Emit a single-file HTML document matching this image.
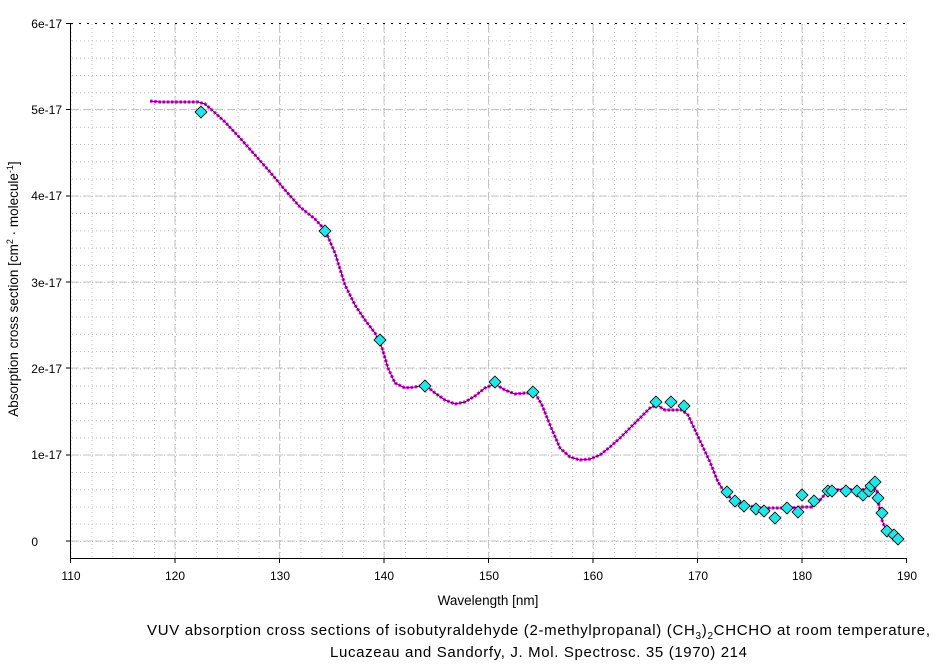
<!DOCTYPE html>
<html><head><meta charset="utf-8"><style>
body{margin:0;background:#fff;width:939px;height:665px;overflow:hidden}
text{font-family:"Liberation Sans",Arial,sans-serif;fill:#000}
</style></head><body>
<svg width="939" height="665" xmlns="http://www.w3.org/2000/svg">
<defs>
<pattern id="pv" patternUnits="userSpaceOnUse" x="70.5" y="0" width="20.9" height="4">
<line x1="0.5" y1="0" x2="0.5" y2="4" stroke="#bbb" stroke-dasharray="1,3"/>
</pattern>
<pattern id="ph" patternUnits="userSpaceOnUse" x="0" y="541" width="4" height="17.26">
<line x1="0" y1="0.5" x2="4" y2="0.5" stroke="#bbb" stroke-dasharray="1,3"/>
</pattern>
<marker id="dm" markerUnits="userSpaceOnUse" markerWidth="14" markerHeight="14" refX="7" refY="7" overflow="visible">
<polygon points="7,1 13,7 7,13 1,7" fill="#22e5e5" stroke="#000" stroke-width="0.8"/>
</marker>
</defs>
<rect x="71" y="24" width="836" height="534" fill="url(#pv)"/>
<rect x="71" y="24" width="836" height="534" fill="url(#ph)"/>
<g stroke="#c4c4c4" stroke-dasharray="8,4">
<line x1="175" y1="24" x2="175" y2="558"/><line x1="279.5" y1="24" x2="279.5" y2="558"/><line x1="384" y1="24" x2="384" y2="558"/><line x1="488.5" y1="24" x2="488.5" y2="558"/><line x1="593" y1="24" x2="593" y2="558"/><line x1="697.5" y1="24" x2="697.5" y2="558"/><line x1="802" y1="24" x2="802" y2="558"/>
<line x1="71" y1="109.5" x2="907" y2="109.5"/><line x1="71" y1="196" x2="907" y2="196"/><line x1="71" y1="282" x2="907" y2="282"/><line x1="71" y1="368" x2="907" y2="368"/><line x1="71" y1="455" x2="907" y2="455"/><line x1="71" y1="541" x2="907" y2="541"/>
</g>
<line x1="71" y1="23.5" x2="907" y2="23.5" stroke="#000" stroke-dasharray="2,6"/>
<line x1="70.5" y1="23" x2="70.5" y2="558" stroke="#000"/>
<line x1="70" y1="558.5" x2="907" y2="558.5" stroke="#000"/>
<g stroke="#000">
<line x1="66" y1="23.5" x2="70" y2="23.5"/><line x1="66" y1="109.5" x2="70" y2="109.5"/><line x1="66" y1="196" x2="70" y2="196"/><line x1="66" y1="282" x2="70" y2="282"/><line x1="66" y1="368" x2="70" y2="368"/><line x1="66" y1="455" x2="70" y2="455"/><line x1="66" y1="541" x2="70" y2="541"/>
<line x1="70.5" y1="558" x2="70.5" y2="563"/><line x1="175" y1="558" x2="175" y2="563"/><line x1="279.5" y1="558" x2="279.5" y2="563"/><line x1="384" y1="558" x2="384" y2="563"/><line x1="488.5" y1="558" x2="488.5" y2="563"/><line x1="593" y1="558" x2="593" y2="563"/><line x1="697.5" y1="558" x2="697.5" y2="563"/><line x1="802" y1="558" x2="802" y2="563"/><line x1="906.5" y1="558" x2="906.5" y2="563"/>
</g>
<g text-anchor="end" style="font-size:12px">
<text x="62" y="28">6e-17</text><text x="62" y="114">5e-17</text><text x="62" y="200">4e-17</text><text x="62" y="287">3e-17</text><text x="62" y="373">2e-17</text><text x="62" y="459">1e-17</text><text x="38" y="546">0</text>
</g>
<g text-anchor="middle" style="font-size:12px">
<text x="71" y="580">110</text><text x="175" y="580">120</text><text x="280" y="580">130</text><text x="384" y="580">140</text><text x="489" y="580">150</text><text x="593" y="580">160</text><text x="698" y="580">170</text><text x="802" y="580">180</text><text x="907" y="580">190</text>
</g>
<text x="488" y="605" text-anchor="middle" style="font-size:13.5px">Wavelength [nm]</text>
<text transform="translate(18,289) rotate(-90)" text-anchor="middle" style="font-size:13.5px">Absorption cross section [cm<tspan dy="-5" style="font-size:9px">2</tspan><tspan dy="5"> · molecule</tspan><tspan dy="-5" style="font-size:9px">-1</tspan><tspan dy="5">]</tspan></text>
<text x="147" y="635" style="font-size:15px" textLength="783" lengthAdjust="spacing">VUV absorption cross sections of isobutyraldehyde (2-methylpropanal) (CH<tspan dy="4" style="font-size:10px">3</tspan><tspan dy="-4">)</tspan><tspan dy="4" style="font-size:10px">2</tspan><tspan dy="-4">CHCHO at room temperature,</tspan></text>
<text x="330" y="657" style="font-size:15px" textLength="417" lengthAdjust="spacing">Lucazeau and Sandorfy, J. Mol. Spectrosc. 35 (1970) 214</text>
<polyline fill="none" stroke="#ff00ff" stroke-width="3.2" stroke-dasharray="2.6,1.6" points="150,101 160,102 175,102 198,102 205,104 212,110 225,122 240,138 255,155 270,172 285,190 300,207 315,219 325,230 335,253 345,285 355,305 365,320 375,333 382,348 388,368 395,383 405,388 415,387 425,385 435,393 445,400 455,404 465,402 475,396 485,388 495,384 505,390 515,394 525,393 535,393 542,405 550,425 560,448 570,457 580,460 590,459 600,455 610,447 620,438 630,428 640,418 650,408 657,405 665,410 675,410 682,410 688,415 695,430 702,445 710,462 718,482 725,493 733,500 745,505 760,508 775,508 790,508 800,507 812,507 820,500 827,492 835,490 845,489 855,490 862,490 868,488 873,487 877,491 879,506 882,520 885,528"/>
<polyline fill="none" stroke="#000" stroke-width="0.8" points="150,101 160,102 175,102 198,102 205,104 212,110 225,122 240,138 255,155 270,172 285,190 300,207 315,219 325,230 335,253 345,285 355,305 365,320 375,333 382,348 388,368 395,383 405,388 415,387 425,385 435,393 445,400 455,404 465,402 475,396 485,388 495,384 505,390 515,394 525,393 535,393 542,405 550,425 560,448 570,457 580,460 590,459 600,455 610,447 620,438 630,428 640,418 650,408 657,405 665,410 675,410 682,410 688,415 695,430 702,445 710,462 718,482 725,493 733,500 745,505 760,508 775,508 790,508 800,507 812,507 820,500 827,492 835,490 845,489 855,490 862,490 868,488 873,487 877,491 879,506 882,520 885,528"/>
<polyline fill="none" stroke="none" marker-start="url(#dm)" marker-mid="url(#dm)" marker-end="url(#dm)" points="201,112 325,231 380,340 425,386 495,382 533,392 656,402 671,402 684,406 727,492 735,501 744,506 756,509 764,511 775,518 787,508 798,512 802,495 814,501 828,491 832,491 846,491 857,491 863,495 869,491 871,486 875,482 878,498 882,513 887,531 894,535 898,539"/>
</svg>
</body></html>
